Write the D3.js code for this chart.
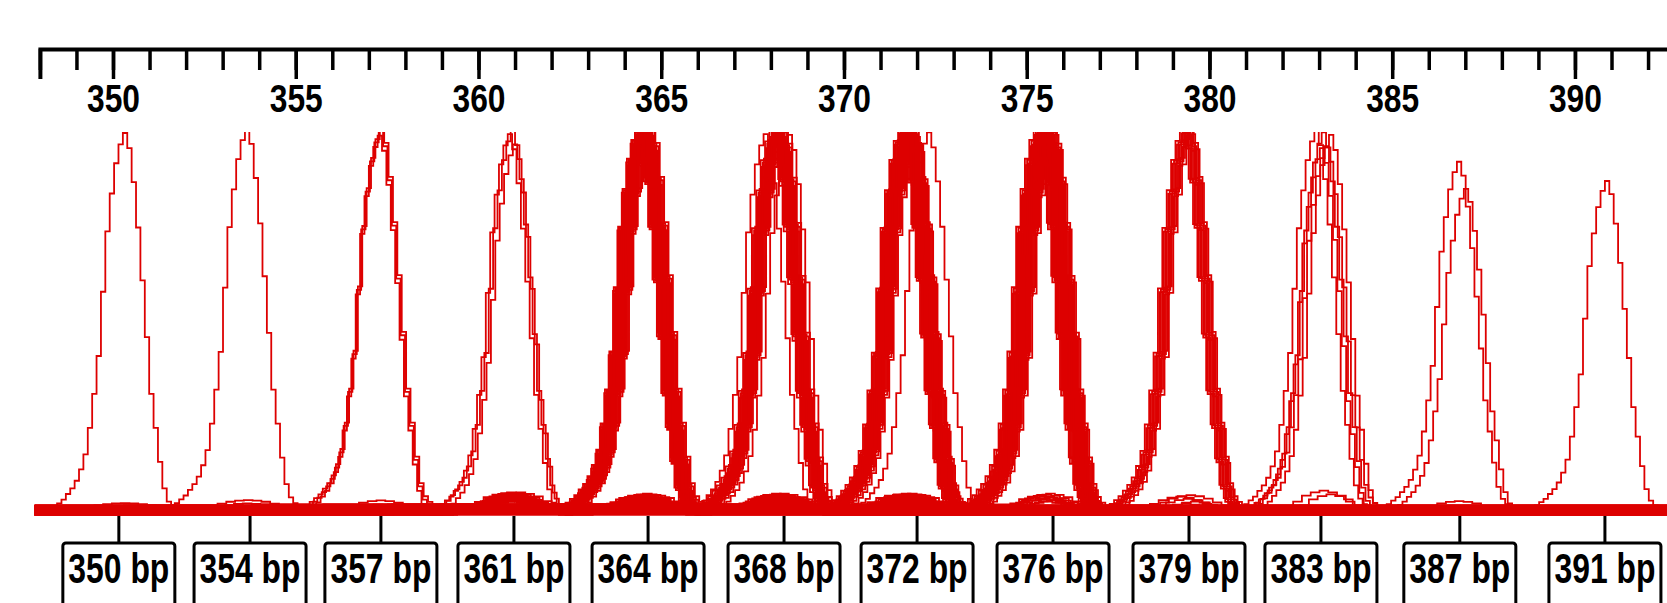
<!DOCTYPE html>
<html>
<head>
<meta charset="utf-8">
<script src="https://cdn.jsdelivr.net/npm/d3@7"></script>
<style>
body { margin: 0; background: #fff; }
text { font-family: "Liberation Sans", Arial, sans-serif; font-weight: bold; fill: #000; }
</style>
</head>
<body>
<div id="chart"></div>
<script>
let svg_width = 1667
let svg_height = 603

// size axis (bp)
let axisTicks = [350, 355, 360, 365, 370, 375, 380, 385, 390]
let minorTicks = d3.range(348, 394)

// allele bins
let binSizes = [350.16, 353.75, 357.33, 360.97, 364.64, 368.36, 372.0, 375.72, 379.44, 383.05, 386.85, 390.82]
let binLabels = ["350 bp", "354 bp", "357 bp", "361 bp", "364 bp", "368 bp", "372 bp", "376 bp", "379 bp", "383 bp", "387 bp", "391 bp"]

// peak centres of the overlaid samples, one per allele
let peakCenters = [350.33, 353.67, 357.33, 360.94, 364.56, 368.22, 371.78, 375.55, 379.41, 383.13, 386.83, 390.88]

// shift of every overlaid trace from its allele centre (bp)
let traceShifts = [
    [0],
    [0],
    [-0.03, 0, 0.03],
    [-0.08, 0, 0.06],
    [-0.22, -0.2, -0.18, -0.16, -0.14, -0.12, -0.1, -0.08, -0.06, -0.05, -0.04, -0.03, -0.02, -0.01, 0, 0.01, 0.03, 0.05, 0.07, 0.09, 0.11, 0.13, 0.16, 0.19, 0.22],
    [-0.36, -0.2, -0.17, -0.14, -0.11, -0.09, -0.07, -0.05, -0.03, -0.01, 0, 0.02, 0.04, 0.06, 0.08, 0.1, 0.13, 0.16, 0.19, 0.3],
    [-0.24, -0.21, -0.18, -0.15, -0.13, -0.11, -0.09, -0.07, -0.05, -0.04, -0.03, -0.02, -0.01, 0, 0.01, 0.02, 0.04, 0.06, 0.08, 0.1, 0.12, 0.15, 0.18, 0.21, 0.24, 0.55],
    [-0.3, -0.27, -0.24, -0.21, -0.18, -0.16, -0.14, -0.12, -0.1, -0.08, -0.07, -0.06, -0.05, -0.04, -0.03, -0.02, -0.01, 0, 0.01, 0.02, 0.03, 0.05, 0.07, 0.09, 0.11, 0.13, 0.16, 0.19, 0.22, 0.26],
    [-0.16, -0.12, -0.08, -0.04, 0, 0.03, 0.06, 0.1, 0.14],
    [-0.2, -0.05, 0, 0.08, 0.2],
    [0, 0.19],
    [0]
]
// relative peak heights (first value used when a trace has none of its own)
let traceHeights = [
    [1], [1], [1], [1, 1, 0.98], [1], [1], [1], [1], [1],
    [1, 0.97, 1, 0.95, 1],
    [0.915, 0.853],
    [0.867]
]
// stutter bump that each allele's traces leave one repeat lower
let stutterHeights = [0, 0.01, 0.015, 0.02, 0.035, 0.032, 0.032, 0.032, 0.032, 0.03, 0.045, 0.02]

// peak shape (offset in bp, relative height)
let profileOffsets = [-2.04, -1.92, -1.8, -1.68, -1.56, -1.44, -1.32, -1.2, -1.08, -0.96, -0.84, -0.72, -0.6, -0.48, -0.36, -0.24, -0.12, 0, 0.12, 0.24, 0.36, 0.48, 0.6, 0.72, 0.84, 0.96, 1.08, 1.2, 1.32, 1.44]
let profileHeights = [0, 0.01, 0.02, 0.03, 0.045, 0.06, 0.08, 0.11, 0.15, 0.22, 0.31, 0.41, 0.58, 0.74, 0.84, 0.92, 0.97, 1, 0.96, 0.87, 0.75, 0.61, 0.46, 0.31, 0.22, 0.13, 0.06, 0.025, 0.01, 0]
let stutterOffsets = [-0.96, -0.72, -0.48, -0.24, 0, 0.24, 0.48, 0.72, 0.96]
let stutterShape = [0.1, 0.35, 0.7, 0.9, 1, 0.9, 0.7, 0.35, 0.1]

// baseline level of the traces, cycled
let baseLevels = [0, 0.011, -0.007, 0.005, 0.014, -0.003, 0.008, -0.01, 0.002, 0.012, -0.005, 0.009, -0.001, 0.006]

let traceStart = 347.85
let traceEnd = 393

let x = d3.scaleLinear()
    .domain([348, 393])
    .range([39.9, 1684.6])

let y = d3.scaleLinear()
    .domain([0, 1])
    .range([511, 133])

let svg = d3.select("#chart")
    .append("svg")
    .attr("width", svg_width)
    .attr("height", svg_height)

svg.append("defs")
    .append("clipPath")
    .attr("id", "plotClip")
    .append("rect")
    .attr("x", x(traceStart))
    .attr("y", y(1) - 1)
    .attr("width", svg_width)
    .attr("height", 400)

// build the traces
let traces = []
let n = 0
peakCenters.forEach((c, k) => {
    traceShifts[k].forEach((s, i) => {
        let h = traceHeights[k][i] !== undefined ? traceHeights[k][i] : traceHeights[k][0]
        let b = baseLevels[n % baseLevels.length]
        n++
        let pts = [[traceStart, b]]
        if (k > 0 && stutterHeights[k] > 0) {
            let c0 = peakCenters[k - 1] + s
            stutterOffsets.forEach((o, j) => pts.push([c0 + o, b + stutterHeights[k] * stutterShape[j]]))
        }
        profileOffsets.forEach((o, j) => pts.push([c + s + o, b + h * profileHeights[j]]))
        pts.push([traceEnd, b])
        traces.push(pts)
    })
})

let line = d3.line()
    .x(d => x(d[0]))
    .y(d => y(d[1]))
    .curve(d3.curveStep)

svg.append("g")
    .attr("clip-path", "url(#plotClip)")
    .selectAll("path")
    .data(traces)
    .enter()
    .append("path")
    .attr("d", line)
    .attr("fill", "none")
    .attr("stroke", "#dd0000")
    .attr("stroke-width", 1.8)

// squeeze a text horizontally to a given width, keeping it centred on cx
function squeeze(sel, cx, width) {
    sel.each(function() {
        let w = this.getComputedTextLength()
        let k = width / w
        d3.select(this)
            .attr("text-anchor", "middle")
            .attr("x", 0)
            .attr("transform", `translate(${cx(this)},0) scale(${k},1)`)
    })
}

// size axis on top
let axisG = svg.append("g")
    .attr("transform", "translate(0,49)")

axisG.append("g")
    .call(d3.axisBottom(x).tickValues(minorTicks).tickSize(21).tickSizeOuter(0).tickFormat(""))
    .call(g => g.select(".domain").remove())

let major = axisG.append("g")
    .call(d3.axisBottom(x).tickValues(axisTicks).tickSize(30).tickSizeOuter(30).tickFormat(d => d))

axisG.selectAll("line")
    .attr("stroke", "#000")
    .attr("stroke-width", 3.5)

major.select(".domain")
    .attr("stroke", "#000")
    .attr("stroke-width", 4)
    .attr("fill", "none")

major.selectAll("text")
    .attr("y", 63)
    .attr("dy", 0)
    .attr("font-size", 38)
    .attr("font-family", null)
    .call(squeeze, () => 0, 53)

// allele bin markers
let bins = svg.selectAll("g.bin")
    .data(binSizes)
    .enter()
    .append("g")
    .attr("class", "bin")
    .attr("transform", d => `translate(${x(d)},0)`)

bins.append("line")
    .attr("y1", 516)
    .attr("y2", 543)
    .attr("stroke", "#000")
    .attr("stroke-width", 3)

bins.append("rect")
    .attr("x", -56)
    .attr("y", 543)
    .attr("width", 112)
    .attr("height", 90)
    .attr("rx", 3)
    .attr("fill", "#fff")
    .attr("stroke", "#000")
    .attr("stroke-width", 3)

bins.append("text")
    .attr("y", 583)
    .attr("font-size", 43)
    .text((d, i) => binLabels[i])
    .call(squeeze, () => 0, 101)
</script>
</body>
</html>
